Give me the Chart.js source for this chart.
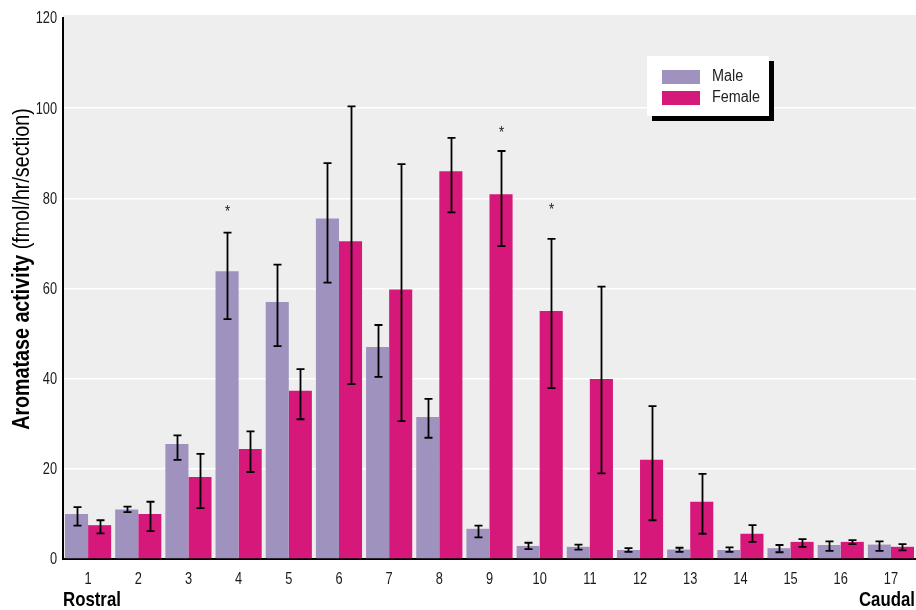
<!DOCTYPE html>
<html>
<head>
<meta charset="utf-8">
<script src="https://cdn.jsdelivr.net/npm/chart.js@4/dist/chart.umd.min.js"></script>
<style>
  html, body { margin: 0; padding: 0; background: #ffffff; }
  #wrap { width: 916px; height: 610px; position: relative; }
</style>
</head>
<body>
<div id="wrap"><canvas id="c" width="916" height="610"></canvas></div>
<script>
// Brain sections from rostral (1) to caudal (17)
const sections = ['1','2','3','4','5','6','7','8','9','10','11','12','13','14','15','16','17'];

// Mean aromatase activity (fmol/hr/section)
const maleMean   = [10.0, 11.0, 25.5, 63.8, 57.0, 75.5, 47.0, 31.5, 6.7, 2.9, 2.7, 2.0, 2.1, 2.0, 2.4, 3.1, 3.2];
const femaleMean = [7.5, 10.0, 18.2, 24.4, 37.3, 70.5, 59.8, 86.0, 80.9, 55.0, 39.9, 22.0, 12.7, 5.6, 3.8, 3.8, 2.7];

// Error bar limits
const maleLow    = [7.4, 10.4, 22.0, 53.2, 47.2, 61.3, 40.4, 26.9, 4.8, 2.2, 2.1, 1.6, 1.6, 1.6, 1.5, 1.8, 1.8];
const maleHigh   = [11.5, 11.6, 27.4, 72.4, 65.3, 87.8, 51.9, 35.5, 7.4, 3.6, 3.2, 2.4, 2.5, 2.6, 3.1, 3.9, 3.9];
const femaleLow  = [5.7, 6.2, 11.3, 19.3, 31.0, 38.8, 30.6, 76.9, 69.4, 37.9, 19.0, 8.6, 5.6, 3.8, 2.7, 3.3, 1.9];
const femaleHigh = [8.6, 12.7, 23.3, 28.3, 42.1, 100.4, 87.6, 93.4, 90.5, 71.0, 60.4, 33.9, 18.9, 7.5, 4.4, 4.2, 3.3];

// Significance markers (height of the asterisk, null = none)
const maleStars   = [null, null, null, 77.6, null, null, null, null, null, null, null, null, null, null, null, null, null];
const femaleStars = [null, null, null, null, null, null, null, null, 95.1, 78.0, null, null, null, null, null, null, null];

const yTicks = [0, 20, 40, 60, 80, 100, 120];

const MALE_COLOR = '#a092bf';
const FEMALE_COLOR = '#d6187a';
const FAMILY = '"Liberation Sans", Arial, sans-serif';
const SQUEEZE = 0.82; // condensed lettering

const errorBars = [
  { low: maleLow, high: maleHigh, stars: maleStars },
  { low: femaleLow, high: femaleHigh, stars: femaleStars }
];

// Draw condensed text by squeezing it horizontally
function narrowText(ctx, text, x, y, font, align, color, squeeze) {
  ctx.save();
  ctx.translate(x, y);
  ctx.scale(squeeze || SQUEEZE, 1);
  ctx.font = font;
  ctx.textAlign = align;
  ctx.textBaseline = 'middle';
  ctx.fillStyle = color;
  ctx.fillText(text, 0, 0);
  ctx.restore();
}

const decorations = {
  id: 'decorations',
  beforeDraw(chart) {
    const { ctx, chartArea: a } = chart;
    ctx.save();
    ctx.fillStyle = '#eeeeee';
    ctx.fillRect(a.left, a.top - 3, a.right - a.left, a.bottom - a.top + 3);
    ctx.restore();
  },
  afterDatasetsDraw(chart) {
    const { ctx } = chart;
    const y = chart.scales.y;
    ctx.save();
    ctx.strokeStyle = '#000000';
    ctx.lineWidth = 1.8;
    errorBars.forEach((eb, di) => {
      const meta = chart.getDatasetMeta(di);
      meta.data.forEach((bar, i) => {
        const x = Math.round(bar.x) + 0.5;
        const yl = y.getPixelForValue(eb.low[i]);
        const yh = y.getPixelForValue(eb.high[i]);
        ctx.beginPath();
        ctx.moveTo(x, yl); ctx.lineTo(x, yh);
        ctx.moveTo(x - 4, yl); ctx.lineTo(x + 4, yl);
        ctx.moveTo(x - 4, yh); ctx.lineTo(x + 4, yh);
        ctx.stroke();
        if (eb.stars[i] != null) {
          narrowText(ctx, '*', x, y.getPixelForValue(eb.stars[i]) + 3, '16px ' + FAMILY, 'center', '#222222');
        }
      });
    });
    ctx.restore();
  },
  afterDraw(chart) {
    const { ctx } = chart;
    const xs = chart.scales.x, ys = chart.scales.y;

    // tick labels
    yTicks.forEach(v => narrowText(ctx, String(v), 57, ys.getPixelForValue(v) + 1, '16px ' + FAMILY, 'right', '#1a1a1a', 0.8));
    sections.forEach((s, i) => narrowText(ctx, s, xs.getPixelForValue(i), 580, '16px ' + FAMILY, 'center', '#1a1a1a', 0.8));

    // y-axis title: bold lead followed by regular units
    ctx.save();
    const boldPart = 'Aromatase activity';
    const regPart = ' (fmol/hr/section)';
    ctx.translate(22, 269);
    ctx.rotate(-Math.PI / 2);
    ctx.scale(SQUEEZE, 1);
    ctx.textBaseline = 'middle';
    ctx.fillStyle = '#000000';
    ctx.font = 'bold 24px ' + FAMILY;
    const wb = ctx.measureText(boldPart).width;
    ctx.font = '24px ' + FAMILY;
    const wr = ctx.measureText(regPart).width;
    const sx = -(wb + wr) / 2;
    ctx.textAlign = 'left';
    ctx.font = 'bold 24px ' + FAMILY;
    ctx.fillText(boldPart, sx, 0);
    ctx.font = '24px ' + FAMILY;
    ctx.fillText(regPart, sx + wb, 0);
    ctx.restore();

    // axis end labels
    narrowText(ctx, 'Rostral', 63, 600, 'bold 20.5px ' + FAMILY, 'left', '#000000');
    narrowText(ctx, 'Caudal', 915, 600, 'bold 20.5px ' + FAMILY, 'right', '#000000');

    // legend box with drop shadow
    ctx.save();
    ctx.fillStyle = '#000000';
    ctx.fillRect(652, 61, 122, 60);
    ctx.fillStyle = '#ffffff';
    ctx.fillRect(647, 56, 122, 60);
    ctx.restore();
    const items = [
      { label: chart.data.datasets[0].label, color: MALE_COLOR, y: 70 },
      { label: chart.data.datasets[1].label, color: FEMALE_COLOR, y: 91 }
    ];
    items.forEach(it => {
      ctx.save();
      ctx.fillStyle = it.color;
      ctx.fillRect(662, it.y, 38, 14);
      ctx.restore();
      narrowText(ctx, it.label, 712, it.y + 7, '16px ' + FAMILY, 'left', '#222222', 0.9);
    });
  }
};

new Chart(document.getElementById('c'), {
  type: 'bar',
  data: {
    labels: sections,
    datasets: [
      { label: 'Male', data: maleMean, backgroundColor: MALE_COLOR, borderWidth: 0 },
      { label: 'Female', data: femaleMean, backgroundColor: FEMALE_COLOR, borderWidth: 0 }
    ]
  },
  options: {
    responsive: false,
    animation: false,
    devicePixelRatio: 1,
    layout: { padding: { top: 18, right: 0, bottom: 0, left: 0 } },
    datasets: { bar: { categoryPercentage: 0.92, barPercentage: 1.0 } },
    plugins: { legend: { display: false }, tooltip: { enabled: false } },
    scales: {
      x: {
        grid: { display: false, drawTicks: false },
        border: { display: true, color: '#000000', width: 2 },
        ticks: { display: false },
        afterFit(s) { s.height = 51; }
      },
      y: {
        min: 0, max: 120,
        afterBuildTicks(s) { s.ticks = yTicks.map(v => ({ value: v })); },
        grid: {
          drawTicks: false,
          lineWidth: 1.5,
          color: ctx => (ctx.tick && (ctx.tick.value === 0 || ctx.tick.value === 120)) ? 'rgba(0,0,0,0)' : '#ffffff'
        },
        border: { display: true, color: '#000000', width: 2 },
        ticks: { display: false },
        afterFit(s) { s.width = 63; }
      }
    }
  },
  plugins: [decorations]
});
</script>
</body>
</html>
